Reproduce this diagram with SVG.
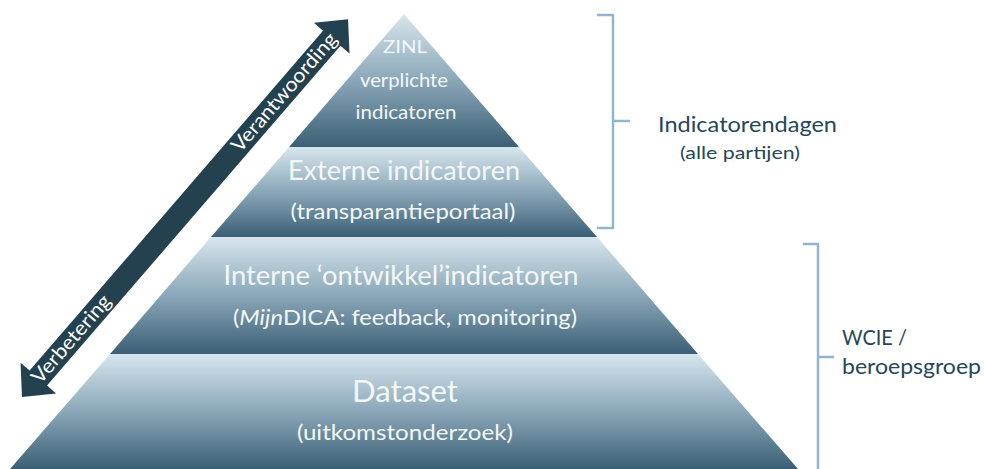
<svg xmlns="http://www.w3.org/2000/svg" width="984" height="469" viewBox="0 0 984 469">
  <defs>
    <linearGradient id="tierFill" x1="0" y1="0" x2="0" y2="1">
      <stop offset="0" stop-color="#d7e6ee"/>
      <stop offset="0.5" stop-color="#8aa7b8"/>
      <stop offset="1" stop-color="#3b5f75"/>
    </linearGradient>
    <style>
      .tier { fill: url(#tierFill); }
      .tt { font-family: Lato, "Open Sans", "Liberation Sans", sans-serif; fill: #f3f7fa; text-anchor: middle; }
      .side { font-family: Lato, "Open Sans", "Liberation Sans", sans-serif; fill: #26475a; }
      .brace { fill: none; stroke: #8fb6cc; stroke-width: 2.5; stroke-linecap: butt; stroke-linejoin: round; }
      .arrow { fill: #24414f; }
      .atext { font-family: Lato, "Open Sans", "Liberation Sans", sans-serif; font-size: 20px; fill: #ffffff; stroke: #24414f; stroke-width: 2.5; paint-order: stroke; stroke-linejoin: round; text-anchor: middle; }
    </style>
  </defs>

  <rect width="984" height="469" fill="#ffffff"/>

  <!-- pyramid tiers, apex at (404,14), sides run 0.866 px across per px down -->
  <g id="tier-zinl">
    <polygon class="tier" points="404,14 519,147 289,147"/>
    <text class="tt" x="405" y="53" font-size="18" textLength="44" lengthAdjust="spacingAndGlyphs">ZINL</text>
    <text class="tt" x="404" y="87" font-size="19" textLength="88" lengthAdjust="spacingAndGlyphs">verplichte</text>
    <text class="tt" x="406" y="119" font-size="19" textLength="101" lengthAdjust="spacingAndGlyphs">indicatoren</text>
  </g>

  <g id="tier-extern">
    <polygon class="tier" points="289,147 519,147 597,237 211,237"/>
    <text class="tt" x="404" y="180" font-size="26" textLength="232" lengthAdjust="spacingAndGlyphs">Externe indicatoren</text>
    <text class="tt" x="403" y="219" font-size="22" textLength="225" lengthAdjust="spacingAndGlyphs">(transparantieportaal)</text>
  </g>

  <g id="tier-intern">
    <polygon class="tier" points="211,237 597,237 698,354 110,354"/>
    <text class="tt" x="401" y="285" font-size="26" textLength="355" lengthAdjust="spacingAndGlyphs">Interne ‘ontwikkel’indicatoren</text>
    <text class="tt" x="405" y="325" font-size="22" textLength="344" lengthAdjust="spacingAndGlyphs">(<tspan font-style="italic">Mijn</tspan>DICA: feedback, monitoring)</text>
  </g>

  <g id="tier-dataset">
    <polygon class="tier" points="110,354 698,354 798,469 10,469"/>
    <text class="tt" x="405" y="402" font-size="30" textLength="106" lengthAdjust="spacingAndGlyphs">Dataset</text>
    <text class="tt" x="405" y="440" font-size="22" textLength="216" lengthAdjust="spacingAndGlyphs">(uitkomstonderzoek)</text>
  </g>

  <!-- double-headed arrow alongside the pyramid -->
  <g id="connectors">
    <g id="arrow-verbetering-verantwoording" transform="translate(22,397) rotate(-49.2)">
      <polygon class="arrow" points="0,0 25,-23.5 25,-11.5 474,-11.5 474,-23.5 499,0 474,23.5 474,11.5 25,11.5 25,23.5"/>
      <text class="atext" x="402" y="6" textLength="150" lengthAdjust="spacingAndGlyphs">Verantwoording</text>
      <text class="atext" x="76" y="6" textLength="110" lengthAdjust="spacingAndGlyphs">Verbetering</text>
    </g>
  </g>

  <!-- right-hand braces with their labels -->
  <g id="brace-indicatorendagen">
    <path class="brace" d="M597,15 H613 V228 H597 M613,121 H630"/>
    <text class="side" x="658" y="132" font-size="22" textLength="179" lengthAdjust="spacingAndGlyphs">Indicatorendagen</text>
    <text class="side" x="680" y="159" font-size="18" textLength="120" lengthAdjust="spacingAndGlyphs">(alle partijen)</text>
  </g>

  <g id="brace-wcie">
    <path class="brace" d="M803,244 H818 V469 M818,357 H834"/>
    <text class="side" x="842" y="345" font-size="21" textLength="65" lengthAdjust="spacingAndGlyphs">WCIE /</text>
    <text class="side" x="842" y="374" font-size="21" textLength="139" lengthAdjust="spacingAndGlyphs">beroepsgroep</text>
  </g>
</svg>
